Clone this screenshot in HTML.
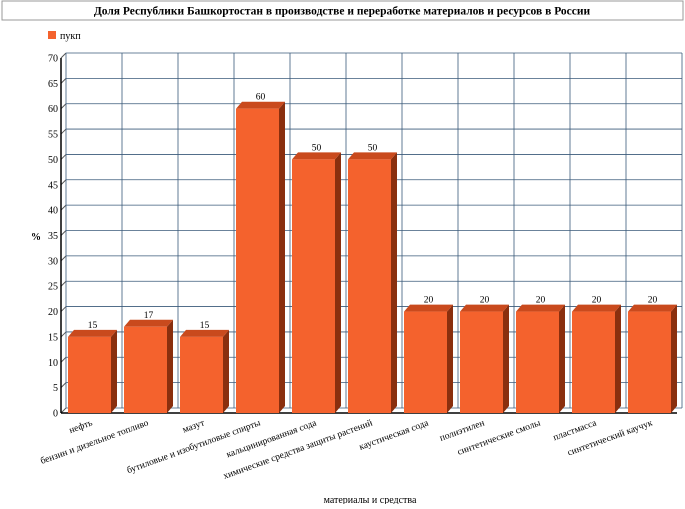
<!DOCTYPE html>
<html><head><meta charset="utf-8"><style>
body{margin:0;background:#fff;font-family:"Liberation Serif","DejaVu Serif",serif;}
</style></head><body>
<svg width="685" height="504" viewBox="0 0 685 504" xmlns="http://www.w3.org/2000/svg">
<rect x="2" y="1" width="681" height="19" fill="#fff" stroke="#999"/>
<text x="342" y="14.5" text-anchor="middle" font-size="11.5" font-weight="bold">Доля Республики Башкортостан в производстве и переработке материалов и ресурсов в России</text>
<rect x="48" y="31" width="8" height="8" fill="#f4622d"/>
<text x="60" y="39" font-size="10">пукп</text>
<text x="36" y="240" font-size="10" font-weight="bold" text-anchor="middle" transform="rotate(-90 36 240) rotate(90 36 240)">%</text>
<text x="370" y="503" font-size="10" text-anchor="middle">материалы и средства</text>
<g id="grid"></g><g id="bars"></g><g id="labels"></g>
</svg>
<script>
const categories=["нефть","бензин и дизельное топливо","мазут","бутиловые и изобутиловые спирты","кальцинированная сода","химические средства защиты растений","каустическая сода","полиэтилен","синтетические смолы","пластмасса","синтетический каучук"];
const values=[15,17,15,60,50,50,20,20,20,20,20];
const yTicks=[0,5,10,15,20,25,30,35,40,45,50,55,60,65,70];
const NS="http://www.w3.org/2000/svg";
const x0=61,step=56,yBase=413,yMax=70,yTop=58,dx=5,dy=5;
const y=v=>yBase-(v/yMax)*(yBase-yTop);
function mk(t,a,p){const e=document.createElementNS(NS,t);for(const k in a)e.setAttribute(k,a[k]);p.appendChild(e);return e;}
const g=document.getElementById('grid'),b=document.getElementById('bars'),l=document.getElementById('labels');
const xEnd=x0+dx+step*categories.length;
yTicks.forEach(t=>{
 const ln=mk('line',{x1:x0,y1:y(t),x2:x0+dx,y2:y(t)-dy,stroke:'#555'},g);
 
 const gl=mk('line',{x1:x0+dx,y1:y(t)-dy,x2:xEnd,y2:y(t)-dy,stroke:'#3a5a7a','stroke-width':0.8},g);
 
 const tx=mk('text',{x:x0-3,y:y(t)+3.5,'font-size':10,'text-anchor':'end'},g);tx.textContent=t;
 
});
for(let i=0;i<=categories.length;i++){
 const vl=mk('line',{x1:x0+dx+i*step,y1:y(0)-dy,x2:x0+dx+i*step,y2:y(70)-dy,stroke:'#3a5a7a','stroke-width':0.8},g);
 
}
const ax=mk('line',{x1:x0,y1:y(0),x2:x0,y2:y(70),stroke:'#000','stroke-width':1.5},g);

const bx=mk('line',{x1:x0,y1:y(0),x2:xEnd-dx,y2:y(0),stroke:'#000','stroke-width':1.5},g);

values.forEach((v,i)=>{
 const xl=x0+7+i*step,w=43,yt=y(v),yb=y(0);
 const gr=mk('g',{},b);
 mk('polygon',{points:`${xl+w},${yt} ${xl+w+dx+1},${yt-dy-2} ${xl+w+dx+1},${yb-dy-2} ${xl+w},${yb}`,fill:'#8a2f0e'},gr);
 mk('polygon',{points:`${xl},${yt} ${xl+dx+1},${yt-dy-2} ${xl+w+dx+1},${yt-dy-2} ${xl+w},${yt}`,fill:'#c94a1d'},gr);
 mk('rect',{x:xl,y:yt,width:w,height:yb-yt,fill:'#f4622d'},gr);
 const t=mk('text',{x:xl+w/2+3,y:yt-dy-4,'font-size':9.5,'text-anchor':'middle'},b);t.textContent=v;
 
});
categories.forEach((c,i)=>{
 const xc=x0+step*i+step/2+4,yy=y(0)+12;
 const t=mk('text',{x:xc,y:yy,'font-size':9.5,'text-anchor':'end',transform:`rotate(-20 ${xc} ${yy})`},l);
 t.textContent=c;
});
</script>
</body></html>
